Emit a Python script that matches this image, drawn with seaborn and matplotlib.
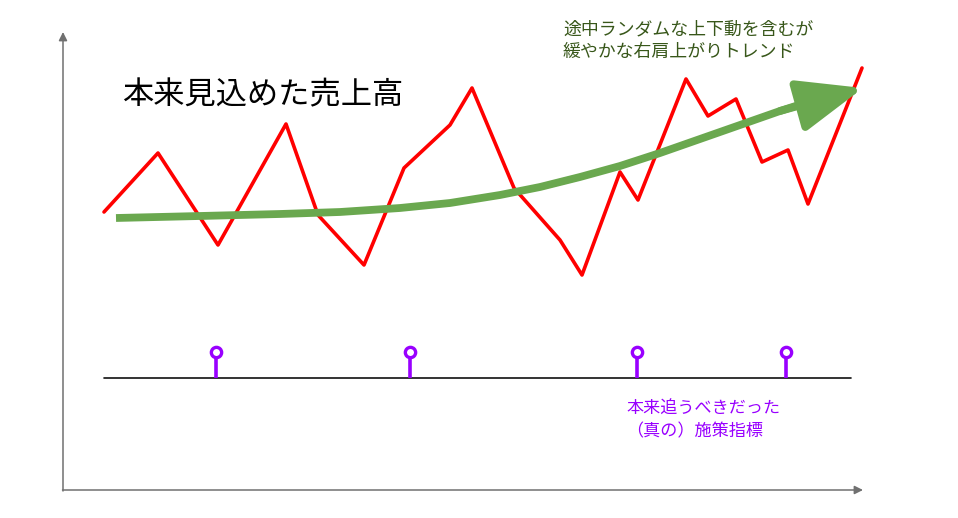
import matplotlib
matplotlib.use("Agg")
import matplotlib.pyplot as plt
import numpy as np
import pandas as pd
import seaborn as sns

# 売上高の実績 (画面座標で読み取り)
sales_x = [104, 158, 218, 286, 318, 364, 404, 450, 472, 514, 560, 582, 620, 638, 686, 708, 736, 762, 788, 808, 862]
sales_y = [212, 153, 245, 124, 215, 265, 168, 125, 88, 188, 240, 275, 172, 200, 79, 116, 99, 162, 150, 204, 68]

# 緩やかな右肩上がりトレンド
trend_x = [116, 200, 280, 340, 400, 450, 500, 540, 580, 620, 660, 700, 740, 780, 805]
trend_y = [218, 216, 214, 212, 208, 203, 195, 187, 177, 166, 153, 139, 125, 111, 103]
trend_tip = (863, 88)

# 施策指標
kpi_x = [216, 410, 637, 786]
kpi_top = 352
baseline_y = 378

title_text = "本来見込めた売上高"
trend_text = "途中ランダムな上下動を含むが\n緩やかな右肩上がりトレンド"
kpi_text = "本来追うべきだった\n（真の）施策指標"

sns.set_theme(style="white")
plt.rcParams['font.family'] = ['Noto Sans CJK JP', 'DejaVu Sans']

fig = plt.figure(figsize=(9.58, 5.18), dpi=100)
ax = fig.add_axes([0, 0, 1, 1])
ax.set_xlim(0, 958)
ax.set_ylim(518, 0)
ax.axis('off')

axis_col = '#707070'
ax.annotate('', xy=(63, 32), xytext=(63, 491),
            arrowprops=dict(arrowstyle='-|>,head_length=5,head_width=2.5', lw=1.1,
                            color=axis_col, mutation_scale=1, shrinkA=0, shrinkB=0))
ax.annotate('', xy=(863, 490), xytext=(62.5, 490),
            arrowprops=dict(arrowstyle='-|>,head_length=5,head_width=2.5', lw=1.1,
                            color=axis_col, mutation_scale=1, shrinkA=0, shrinkB=0))

sales = pd.DataFrame({'x': sales_x, 'y': sales_y})
sns.lineplot(data=sales, x='x', y='y', color='#ff0000', lw=2.6, sort=False, ax=ax)

green = '#6aa84f'
trend = pd.DataFrame({'x': trend_x, 'y': trend_y})
sns.lineplot(data=trend, x='x', y='y', color=green, lw=5.6, sort=False, ax=ax,
             solid_capstyle='butt')
ax.annotate('', xy=trend_tip, xytext=(trend_x[-2], trend_y[-2]),
            arrowprops=dict(arrowstyle='-|>,head_length=40,head_width=16', lw=5.6,
                            color=green, mutation_scale=1, shrinkA=0, shrinkB=0))

ax.plot([104, 851], [baseline_y, baseline_y], color='#111111', lw=1.2)
purple = '#9900ff'
for x in kpi_x:
    ax.plot([x, x], [baseline_y, kpi_top + 5], color=purple, lw=2.6, solid_capstyle='butt')
kpi = pd.DataFrame({'x': kpi_x, 'y': [kpi_top] * len(kpi_x)})
sns.scatterplot(data=kpi, x='x', y='y', s=55, facecolor='white', edgecolor=purple,
                linewidth=2.4, ax=ax, zorder=5)

ax.text(122, 95, title_text, fontsize=22.5, color='black', va='center', ha='left')
ax.text(563, 41, trend_text, fontsize=12.9, color='#38571a', va='center', ha='left',
        linespacing=1.3)
ax.text(626, 420, kpi_text, fontsize=12.3, color=purple, va='center', ha='left',
        linespacing=1.3)

plt.savefig('out.png', dpi=100)
